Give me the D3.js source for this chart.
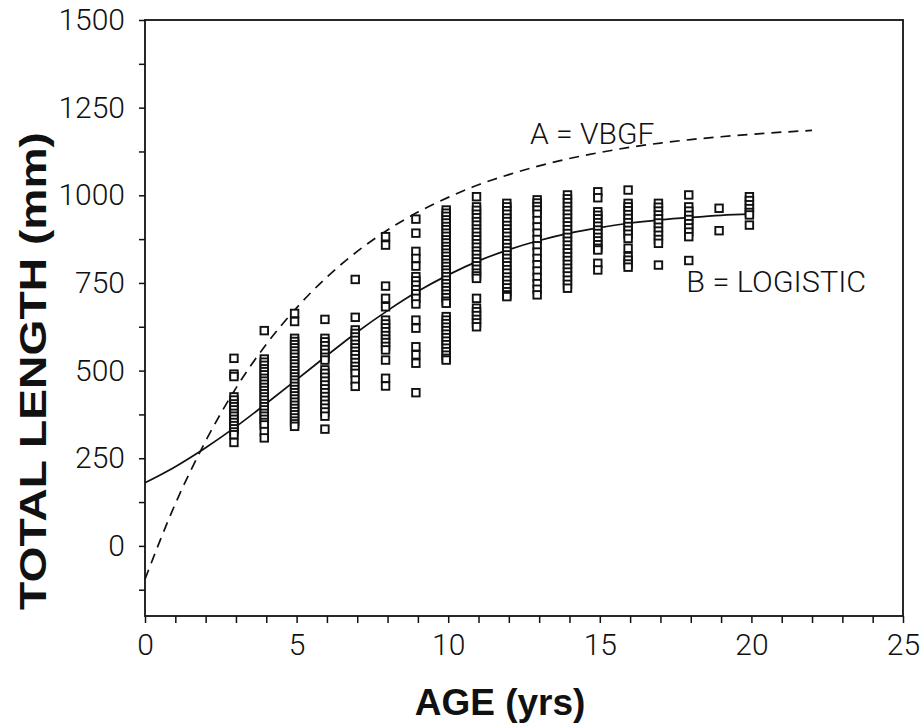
<!DOCTYPE html>
<html>
<head>
<meta charset="utf-8">
<script src="https://cdn.jsdelivr.net/npm/d3@7"></script>
<style>
  body { margin: 0; background: #fff; }
  .tick text { font-family: Roboto, "Liberation Sans", sans-serif; font-weight: 300; font-size: 30px; fill: #111; }
  .tick line { stroke: #111; stroke-width: 1.5; }
  .lbl { font-family: Roboto, "Liberation Sans", sans-serif; font-weight: 300; font-size: 30px; fill: #111; }
  .title { font-family: "Liberation Sans", Arial, sans-serif; font-weight: bold; font-size: 37px; fill: #111; }
</style>
</head>
<body>
<svg id="chart" width="924" height="723"></svg>
<script>
// ages of the sampled fish, one column of squares per age
var ages = [3, 4, 5, 6, 7, 8, 9, 10, 11, 12, 13, 14, 15, 16, 17, 18, 19, 20];

// total length (mm), same order as ages
var lengths = [
  [535, 490, 483, 425, 416, 405, 397, 388, 378, 370, 361, 352, 343, 334, 325, 317, 295],
  [614, 533, 524, 515, 505, 497, 488, 478, 470, 461, 452, 443, 434, 425, 416, 406, 397, 388, 378, 370, 361, 352, 345, 326, 308],
  [663, 640, 592, 583, 574, 565, 556, 547, 538, 528, 519, 510, 500, 491, 482, 473, 464, 455, 446, 437, 428, 419, 410, 401, 392, 383, 374, 365, 356, 348, 341],
  [646, 592, 582, 571, 560, 549, 538, 530, 502, 492, 481, 470, 459, 448, 437, 426, 415, 404, 393, 382, 370, 333],
  [760, 652, 616, 606, 596, 586, 575, 565, 555, 545, 534, 523, 512, 502, 492, 473, 455],
  [882, 858, 741, 706, 682, 644, 633, 622, 611, 600, 590, 580, 569, 559, 530, 478, 456],
  [932, 892, 840, 820, 798, 768, 756, 744, 731, 719, 706, 690, 644, 621, 568, 545, 521, 437],
  [958, 949, 940, 930, 921, 911, 902, 892, 883, 873, 864, 854, 845, 835, 826, 816, 806, 797, 787, 778, 768, 758, 748, 738, 728, 718, 708, 698, 692, 654, 644, 634, 624, 614, 604, 594, 584, 574, 564, 554, 544, 535, 530],
  [996, 967, 957, 946, 936, 925, 915, 904, 894, 883, 873, 862, 852, 841, 831, 820, 810, 799, 789, 778, 770, 763, 706, 678, 668, 657, 646, 636, 625],
  [977, 967, 956, 946, 935, 925, 914, 904, 893, 883, 872, 862, 851, 841, 830, 820, 809, 799, 788, 778, 767, 757, 746, 736, 725, 716, 711],
  [987, 978, 968, 958, 946, 928, 910, 892, 874, 856, 838, 820, 802, 784, 766, 748, 732, 716],
  [1001, 990, 979, 968, 957, 946, 935, 924, 913, 902, 891, 880, 869, 858, 847, 836, 825, 814, 803, 792, 781, 770, 758, 746, 735],
  [1010, 993, 953, 943, 933, 922, 912, 901, 891, 880, 870, 859, 849, 844, 806, 787],
  [1015, 977, 967, 956, 945, 934, 922, 911, 900, 889, 877, 849, 825, 815, 804, 795],
  [977, 966, 955, 944, 933, 921, 909, 898, 886, 874, 863, 801],
  [1001, 967, 955, 943, 931, 919, 907, 895, 882, 814],
  [963, 899],
  [996, 985, 973, 962, 951, 944, 915]
];

// curve A (VBGF)
var vbgfAge = [0, 1, 2, 3, 4, 5, 6, 7, 8, 9, 10, 11, 12, 13, 14, 15, 16, 17, 18, 19, 20, 21, 22];
var vbgfLen = [-95, 120, 299, 450, 575, 679, 767, 840, 901, 952, 994, 1030, 1059, 1084, 1105, 1122, 1137, 1149, 1159, 1167, 1174, 1180, 1185];

// curve B (logistic)
var logAge = [0, 1, 2, 3, 4, 5, 6, 7, 8, 9, 10, 11, 12, 13, 14, 15, 16, 17, 18, 19, 20];
var logLen = [180, 226, 280, 340, 406, 474, 543, 610, 671, 726, 773, 813, 845, 871, 892, 908, 921, 930, 937, 943, 947];

var xTicks = d3.range(0, 26, 1);
var yTicks = d3.range(-125, 1501, 125);

var svg = d3.select("#chart");

var x = d3.scaleLinear().domain([0, 25]).range([145, 903]);
var y = d3.scaleLinear().domain([-200, 1500]).range([616, 20]);

// frame
svg.append("rect")
    .attr("x", x(0)).attr("y", y(1500))
    .attr("width", x(25) - x(0)).attr("height", y(-200) - y(1500))
    .attr("fill", "none").attr("stroke", "#111").attr("stroke-width", 1.8);

var xAxis = svg.append("g")
    .attr("transform", "translate(0," + y(-200) + ")")
    .call(d3.axisBottom(x).tickValues(xTicks).tickSize(7).tickPadding(11)
      .tickFormat(function(d) { return d % 5 === 0 ? d : ""; }));
xAxis.select(".domain").remove();

var yAxis = svg.append("g")
    .attr("transform", "translate(" + x(0) + ",0)")
    .call(d3.axisLeft(y).tickValues(yTicks).tickSize(6).tickPadding(14)
      .tickFormat(function(d) { return d % 250 === 0 ? d : ""; }));
yAxis.select(".domain").remove();

// fitted curves
var line = d3.line()
    .x(function(d) { return x(d[0]); })
    .y(function(d) { return y(d[1]); })
    .curve(d3.curveMonotoneX);

svg.append("path")
    .datum(d3.zip(vbgfAge, vbgfLen))
    .attr("d", line)
    .attr("fill", "none").attr("stroke", "#111")
    .attr("stroke-width", 1.7).attr("stroke-dasharray", "10,7");

svg.append("path")
    .datum(d3.zip(logAge, logLen))
    .attr("d", line)
    .attr("fill", "none").attr("stroke", "#111")
    .attr("stroke-width", 1.7);

// observations
var pts = [];
ages.forEach(function(a, i) {
  lengths[i].forEach(function(v) { pts.push([a, v]); });
});

var s = 7.5;
svg.append("g")
  .selectAll("rect")
  .data(pts)
 .enter().append("rect")
  .attr("x", function(d) { return x(d[0]) - s / 2 - 2; })
  .attr("y", function(d) { return y(d[1]) - s / 2; })
  .attr("width", s).attr("height", s)
  .attr("fill", "#fff").attr("stroke", "#111").attr("stroke-width", 1.9);

// curve labels
svg.append("text").attr("class", "lbl")
    .attr("x", x(12.7)).attr("y", y(1145))
    .text("A = VBGF");
svg.append("text").attr("class", "lbl")
    .attr("x", x(17.85)).attr("y", y(723))
    .attr("textLength", 180).attr("lengthAdjust", "spacingAndGlyphs")
    .text("B = LOGISTIC");

// axis titles
svg.append("text").attr("class", "title")
    .attr("x", 500).attr("y", 715)
    .attr("text-anchor", "middle")
    .text("AGE (yrs)");
svg.append("text").attr("class", "title")
    .attr("transform", "translate(46,371) rotate(-90)")
    .attr("text-anchor", "middle")
    .attr("font-size", 39)
    .attr("textLength", 478).attr("lengthAdjust", "spacingAndGlyphs")
    .text("TOTAL LENGTH (mm)");
</script>
</body>
</html>
